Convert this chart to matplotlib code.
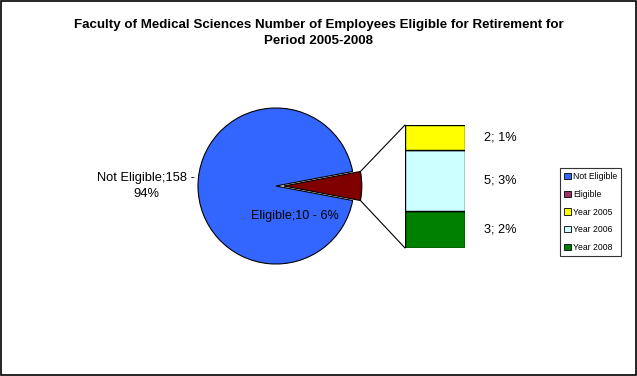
import matplotlib
matplotlib.use("Agg")
import matplotlib.pyplot as plt
from matplotlib.patches import Patch, Rectangle, ConnectionPatch
import numpy as np

plt.rcParams['font.family'] = ['Liberation Sans', 'DejaVu Sans']

title = "Faculty of Medical Sciences Number of Employees Eligible for Retirement for\nPeriod 2005-2008"
pie_labels = ["Not Eligible", "Eligible"]
pie_values = [158, 10]
pie_pcts = ["94%", "6%"]
pie_colors = ["#3366FF", "#800000"]
bar_labels = ["Year 2008", "Year 2006", "Year 2005"]
bar_values = [3, 5, 2]
bar_pcts = ["2%", "3%", "1%"]
bar_colors = ["#008000", "#CCFFFF", "#FFFF00"]
legend_labels = ["Not Eligible", "Eligible", "Year 2005", "Year 2006", "Year 2008"]
legend_colors = ["#3366FF", "#993366", "#FFFF00", "#CCFFFF", "#008000"]

W, H = 637, 376
fig = plt.figure(figsize=(W / 100, H / 100), dpi=100)
fig.patch.set_facecolor("white")

def px_axes(x0, y0, x1, y1):
    return fig.add_axes([x0 / W, 1 - y1 / H, (x1 - x0) / W, (y1 - y0) / H])

# Pie
cx, cy, r = 276, 186, 78
lim = 1.2
axp = px_axes(cx - lim * r, cy - lim * r, cx + lim * r, cy + lim * r)
frac = pie_values[1] / sum(pie_values)
start = frac * 360 / 2
wedges, _ = axp.pie(pie_values, colors=pie_colors, startangle=start, explode=[0, 0.1],
                    radius=1, wedgeprops=dict(edgecolor="black", linewidth=0.8))
axp.set_xlim(-lim, lim)
axp.set_ylim(-lim, lim)
axp.set_aspect("equal")
axp.axis("off")

axp.text(-1.667, 0.0, f"{pie_labels[0]};{pie_values[0]} -\n{pie_pcts[0]}", ha="center", va="center",
         fontsize=9.3, linespacing=1.45, color="black")
axp.text(0.24, -0.385, f"{pie_labels[1]};{pie_values[1]} - {pie_pcts[1]}", ha="center", va="center",
         fontsize=9.1, color="black")

# Stacked bar
axb = px_axes(405, 125, 465, 248)
bottom = 0
for v, c, p in zip(bar_values, bar_colors, bar_pcts):
    axb.bar(0.5, v, width=1, bottom=bottom, color=c, edgecolor="black", linewidth=1)
    axb.text(1.317, bottom + v / 2, f"{v}; {p}", ha="left", va="center", fontsize=9.2)
    bottom += v
axb.set_xlim(0, 1)
axb.set_ylim(0, sum(bar_values))
axb.axis("off")

# Connectors
w = wedges[1]
cxw, cyw = w.center
for th, yb in [(w.theta2, sum(bar_values)), (w.theta1, 0)]:
    xa = cxw + w.r * np.cos(np.radians(th))
    ya = cyw + w.r * np.sin(np.radians(th))
    con = ConnectionPatch(xyA=(xa, ya), coordsA=axp.transData, xyB=(0, yb), coordsB=axb.transData,
                          color="black", linewidth=0.8)
    fig.add_artist(con)

# Legend
handles = [Patch(facecolor=c, edgecolor="black", linewidth=0.6) for c in legend_colors]
leg = fig.legend(handles, legend_labels, loc="upper left", bbox_to_anchor=(560 / W, 1 - 168 / H),
                 fontsize=6.2, frameon=True, fancybox=False, edgecolor="black", handlelength=0.75,
                 handleheight=0.75, handletextpad=0.25, labelspacing=1.0, borderpad=0.5, borderaxespad=0)
leg.get_frame().set_linewidth(0.8)

fig.text(0.5, 1 - 33 / H, title, ha="center", va="center", fontsize=9.6, fontweight="bold",
         linespacing=1.35)

fig.add_artist(Rectangle((0.5 / W, 1.5 / H), (W - 1.5) / W, (H - 2.5) / H, transform=fig.transFigure,
                         fill=False, edgecolor="black", linewidth=1.2))

fig.savefig("out.png", dpi=100)
